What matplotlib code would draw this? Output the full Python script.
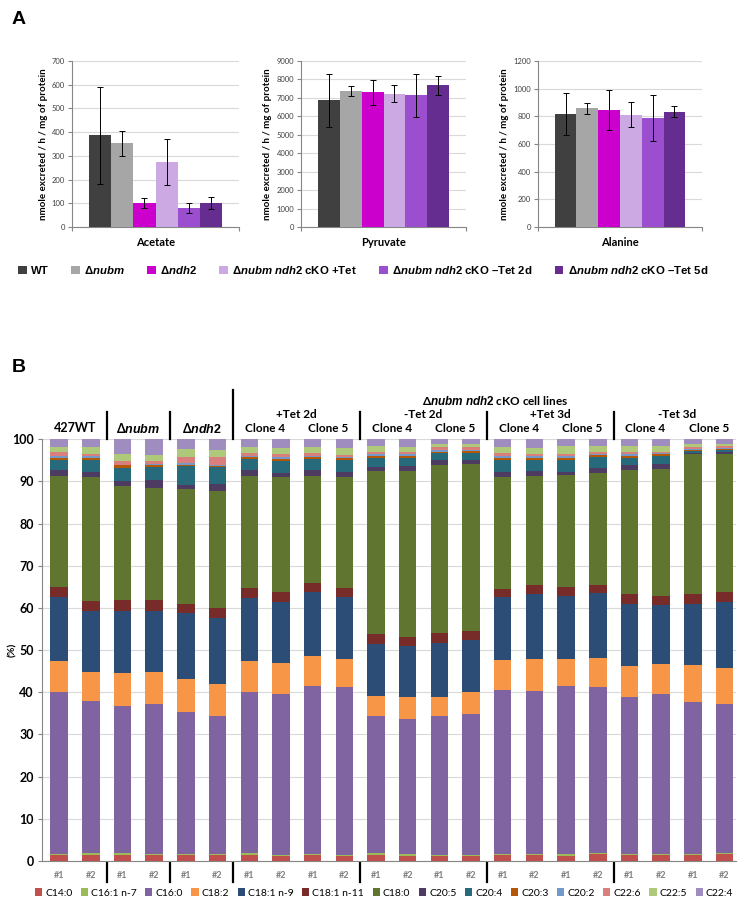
import numpy as np
import matplotlib
matplotlib.use('Agg')
import matplotlib.pyplot as plt
from matplotlib.patches import Patch

plt.rcParams['font.family'] = ['Lato', 'DejaVu Sans']
plt.rcParams['mathtext.fontset'] = 'custom'
plt.rcParams['mathtext.it'] = 'Liberation Sans:italic:bold'
plt.rcParams['mathtext.rm'] = 'Liberation Sans:bold'
plt.rcParams['mathtext.bf'] = 'Liberation Sans:bold'

# ---------------- panel A data ----------------
strains = ['WT', r'Δ$\mathit{nubm}$', r'Δ$\mathit{ndh2}$',
           r'Δ$\mathit{nubm}$ $\mathit{ndh2}$ cKO +Tet',
           r'Δ$\mathit{nubm}$ $\mathit{ndh2}$ cKO –Tet 2d',
           r'Δ$\mathit{nubm}$ $\mathit{ndh2}$ cKO –Tet 5d']
strain_colors = ['#404040', '#A6A6A6', '#CC00CC', '#CCA9E3', '#9B4FCF', '#662D91']

metabolites = ['Acetate', 'Pyruvate', 'Alanine']
acetate_mean = [386, 353, 101, 275, 80, 101]
acetate_err = [206, 52, 21, 97, 23, 25]
pyruvate_mean = [6870, 7370, 7300, 7230, 7130, 7680]
pyruvate_err = [1450, 250, 670, 450, 1170, 500]
alanine_mean = [819, 858, 846, 812, 786, 834]
alanine_err = [152, 40, 145, 90, 165, 40]
y_max = [700, 9000, 1200]
y_step = [100, 1000, 200]

# ---------------- panel B data ----------------
fa_names = ['C14:0', 'C16:1 n-7', 'C16:0', 'C18:2', 'C18:1 n-9', 'C18:1 n-11', 'C18:0',
            'C20:5', 'C20:4', 'C20:3', 'C20:2', 'C22:6', 'C22:5', 'C22:4']
fa_colors = ['#C0504D', '#9BBB59', '#8064A2', '#F79646', '#2C4D75', '#772C2A', '#5F7530',
             '#4D3B62', '#276A7C', '#B65708', '#729ACA', '#D9807E', '#AFC97A', '#A08DC0']

c14_0 = [1.4, 1.5, 1.5, 1.4, 1.4, 1.5, 1.4, 1.2, 1.4, 1.1, 1.5, 1.3, 1.1, 1.1, 1.4, 1.4, 1.3, 1.6, 1.4, 1.4, 1.4, 1.6]
c16_1 = [0.3, 0.4, 0.3, 0.3, 0.2, 0.2, 0.4, 0.3, 0.3, 0.3, 0.3, 0.3, 0.3, 0.3, 0.3, 0.3, 0.3, 0.3, 0.3, 0.3, 0.3, 0.3]
c16_0 = [38.4, 36.1, 34.9, 35.6, 33.8, 32.7, 38.2, 38.2, 39.8, 39.8, 32.6, 32.0, 33.0, 33.4, 38.8, 38.7, 39.9, 39.4, 37.2, 37.9, 35.9, 35.3]
c18_2 = [7.4, 6.9, 7.8, 7.6, 7.7, 7.6, 7.5, 7.2, 7.1, 6.8, 4.7, 5.3, 4.5, 5.3, 7.1, 7.5, 6.5, 6.8, 7.4, 7.1, 8.8, 8.5]
c18_1_n9 = [15.0, 14.5, 14.9, 14.5, 15.6, 15.6, 14.9, 14.6, 15.1, 14.7, 12.3, 12.0, 12.8, 12.4, 14.9, 15.3, 14.9, 15.4, 14.7, 14.1, 14.6, 15.6]
c18_1_n11 = [2.4, 2.2, 2.6, 2.6, 2.3, 2.3, 2.4, 2.4, 2.2, 2.0, 2.4, 2.3, 2.3, 2.1, 2.0, 2.3, 2.0, 2.0, 2.2, 2.0, 2.2, 2.4]
c18_0 = [26.5, 29.5, 26.9, 26.4, 27.1, 27.9, 26.6, 27.1, 25.5, 26.4, 38.7, 39.3, 39.9, 39.5, 26.5, 25.8, 26.6, 26.6, 29.5, 30.1, 33.2, 32.8]
c20_5 = [1.3, 1.2, 1.3, 1.9, 1.0, 1.6, 1.3, 1.1, 1.3, 1.2, 1.0, 1.2, 1.2, 1.0, 1.3, 1.2, 0.8, 1.2, 1.2, 1.2, 0.4, 0.5]
c20_4 = [2.5, 2.8, 2.9, 3.1, 4.5, 4.0, 2.6, 2.8, 2.6, 2.9, 2.1, 1.9, 1.6, 1.7, 2.8, 2.7, 2.9, 2.6, 1.7, 1.9, 0.4, 0.4]
c20_3 = [0.4, 0.4, 0.7, 0.5, 0.4, 0.3, 0.4, 0.4, 0.4, 0.4, 0.4, 0.4, 0.4, 0.4, 0.4, 0.4, 0.4, 0.4, 0.4, 0.4, 0.3, 0.3]
c20_2 = [0.5, 0.5, 0.2, 0.3, 0.3, 0.3, 0.4, 0.4, 0.4, 0.3, 0.4, 0.4, 0.3, 0.3, 0.5, 0.4, 0.4, 0.3, 0.4, 0.3, 0.2, 0.2]
c22_6 = [0.8, 0.6, 0.8, 0.7, 1.4, 1.7, 0.6, 0.7, 0.6, 0.4, 0.5, 0.5, 0.7, 0.6, 0.7, 0.4, 0.5, 0.5, 0.5, 0.4, 0.55, 0.5]
c22_5 = [1.35, 1.6, 1.7, 1.4, 2.1, 1.8, 1.5, 1.6, 1.5, 1.6, 1.5, 1.3, 0.9, 0.8, 1.5, 1.6, 1.9, 1.3, 1.5, 1.3, 0.75, 0.6]
c22_4 = [1.75, 1.8, 3.5, 3.7, 2.2, 2.5, 1.8, 2.0, 1.8, 2.1, 1.6, 1.8, 1.0, 1.1, 1.8, 2.0, 1.6, 1.6, 1.6, 1.6, 1.0, 1.0]
fa_values = [c14_0, c16_1, c16_0, c18_2, c18_1_n9, c18_1_n11, c18_0,
             c20_5, c20_4, c20_3, c20_2, c22_6, c22_5, c22_4]

replicates = ['#1', '#2'] * 11
top_groups = ['427WT', r'Δ$\mathit{nubm}$', r'Δ$\mathit{ndh2}$']
conditions = ['+Tet 2d', '-Tet 2d', '+Tet 3d', '-Tet 3d']
clones = ['Clone 4', 'Clone 5']
separators = [1.5, 3.5, 5.5, 9.5, 13.5, 17.5]

GRID = '#D9D9D9'
AXC = '#868686'

fig = plt.figure(figsize=(7.4, 9.07), dpi=100)

# ---------------- panel A ----------------
a_lefts = [72, 301, 538]
a_rights = [239, 466, 702]
a_means = [acetate_mean, pyruvate_mean, alanine_mean]
a_errs = [acetate_err, pyruvate_err, alanine_err]
W, H = 740.0, 907.0
for k in range(3):
    ax = fig.add_axes([a_lefts[k] / W, 1 - 227 / H, (a_rights[k] - a_lefts[k]) / W, 166 / H])
    xs = np.arange(6)
    ax.bar(xs, a_means[k], width=1.0, color=strain_colors, yerr=a_errs[k],
           error_kw=dict(ecolor='black', elinewidth=0.7, capsize=2, capthick=0.7), zorder=3)
    ax.set_xlim(-1.27, 6.27)
    ax.set_ylim(0, y_max[k])
    ax.set_yticks(np.arange(0, y_max[k] + 1, y_step[k]))
    ax.yaxis.grid(True, color=GRID, linewidth=0.8, zorder=0)
    ax.set_axisbelow(True)
    ax.set_xticks([-1.27, 6.27])
    ax.set_xticklabels(['', ''])
    ax.tick_params(axis='x', length=3, color=AXC)
    ax.tick_params(axis='y', length=3, color=AXC, labelsize=5.5, labelcolor='#404040', pad=2)
    for s in ['top', 'right']:
        ax.spines[s].set_visible(False)
    for s in ['left', 'bottom']:
        ax.spines[s].set_color(AXC)
        ax.spines[s].set_linewidth(0.8)
    ax.set_ylabel('nmole excreted / h / mg of protein', fontsize=7, fontweight='bold', labelpad=3)
    ax.set_xlabel(metabolites[k], fontsize=8, fontweight='bold', labelpad=1)

handles_a = [Patch(facecolor=c, edgecolor='none') for c in strain_colors]
fig.legend(handles_a, strains, loc='center left', bbox_to_anchor=(18 / W, 1 - 270 / H),
           ncol=6, frameon=False, handlelength=0.75, handleheight=0.75, handletextpad=0.4,
           columnspacing=1.95, borderpad=0, borderaxespad=0,
           prop={'family': ['Liberation Sans', 'DejaVu Sans'], 'weight': 'bold', 'size': 8.2})

fig.text(12 / W, 1 - 20 / H, 'A', fontsize=14, fontweight='bold', va='center',
         family=['Liberation Sans', 'DejaVu Sans'])
fig.text(12 / W, 1 - 368 / H, 'B', fontsize=14, fontweight='bold', va='center',
         family=['Liberation Sans', 'DejaVu Sans'])

# ---------------- panel B ----------------
axB = fig.add_axes([42 / W, 1 - 861 / H, (736 - 42) / W, (861 - 439.3) / H])
x = np.arange(len(replicates))
bottom = np.zeros(len(replicates))
for name, vals, col in zip(fa_names, fa_values, fa_colors):
    axB.bar(x, vals, width=0.55, bottom=bottom, color=col, label=name, zorder=3)
    bottom += np.array(vals)

axB.set_xlim(-0.54, 21.36)
axB.set_ylim(0, 100)
axB.set_yticks(np.arange(0, 101, 10))
axB.yaxis.grid(True, color=GRID, linewidth=0.8, zorder=0)
axB.set_axisbelow(True)
axB.set_xticks(x)
axB.set_xticklabels(replicates, fontsize=6.5, fontweight='bold', color='#7F7F7F')
axB.tick_params(axis='x', length=0, pad=7)
axB.tick_params(axis='y', length=3, color=AXC, labelsize=9, pad=3)
for lab in axB.get_yticklabels():
    lab.set_fontweight('bold')
for s in ['top', 'right']:
    axB.spines[s].set_visible(False)
for s in ['left', 'bottom']:
    axB.spines[s].set_color(AXC)
    axB.spines[s].set_linewidth(0.8)
axB.set_ylabel('(%)', fontsize=7.5, fontweight='bold')
axB.yaxis.set_label_coords(-0.036, 0.5)

# group separators above and below the plot
for sx in separators:
    top = 111.6 if sx == 5.5 else 106.4
    axB.plot([sx, sx], [100, top], color='black', lw=1.6, clip_on=False)
    axB.plot([sx, sx], [-0.5, -5.0], color='black', lw=1.6, clip_on=False)

# header labels
for i, g in enumerate(top_groups):
    axB.text(2 * i + 0.5, 102.6, g, ha='center', va='center', fontsize=9, fontweight='bold')
for j, cond in enumerate(conditions):
    start = 6 + 4 * j
    axB.text(start + 1.5, 105.9, cond, ha='center', va='center', fontsize=8.5, fontweight='bold')
    for m, cl in enumerate(clones):
        axB.text(start + 2 * m + 0.5, 102.6, cl, ha='center', va='center', fontsize=8.5,
                 fontweight='bold')
axB.text(13.75, 109.2, r'Δ$\mathit{nubm}$ $\mathit{ndh2}$ cKO cell lines', ha='center',
         va='center', fontsize=8.5, fontweight='bold')

handles_b, labels_b = axB.get_legend_handles_labels()
fig.legend(handles_b, labels_b, loc='center', bbox_to_anchor=(384 / W, 1 - 893 / H),
           ncol=14, frameon=False, handlelength=0.7, handleheight=0.7, handletextpad=0.3,
           columnspacing=0.8, borderpad=0, borderaxespad=0, prop={'size': 7.5})

fig.savefig('out.png', dpi=100)
